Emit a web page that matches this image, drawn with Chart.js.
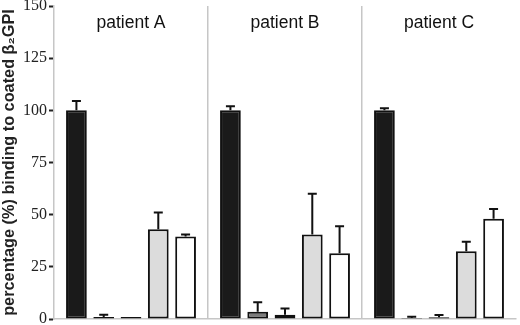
<!DOCTYPE html>
<html>
<head>
<meta charset="utf-8">
<script src="https://cdn.jsdelivr.net/npm/chart.js@4/dist/chart.umd.min.js"></script>
<style>
  html, body { margin: 0; padding: 0; background: #ffffff; }
  #wrap { width: 520px; height: 325px; position: relative; }
</style>
</head>
<body>
<div id="wrap"><canvas id="c" width="520" height="325"></canvas></div>
<script>
// ---- data ----
const categories = ['patient A', 'patient B', 'patient C'];
const series1 = [100, 100, 100];
const errors1 = [4.5, 2, 1];
const series2 = [1, 3.5, 0.5];
const errors2 = [1, 4.5, 0.6];
const series3 = [1, 2, 0.8];
const errors3 = [0, 3, 1.1];
const series4 = [43, 40.5, 32.5];
const errors4 = [8, 19.5, 4.5];
const series5 = [39.5, 31.5, 48];
const errors5 = [1, 13, 4.7];
const yTickValues = [0, 25, 50, 75, 100, 125, 150];
const yTitle = 'percentage (%) binding to coated \u03B2\u2082GPI';

const seriesList = [series1, series2, series3, series4, series5];
const errorList = [errors1, errors2, errors3, errors4, errors5];
const fills = ['#1a1a1a', '#7c7c7c', '#a6a6a6', '#dcdcdc', '#ffffff'];

const errorBarPlugin = {
  id: 'errorBars',
  afterDatasetsDraw(chart) {
    const ctx = chart.ctx;
    const y = chart.scales.y;
    ctx.save();
    ctx.strokeStyle = '#111';
    ctx.lineWidth = 2;
    chart.data.datasets.forEach((ds, d) => {
      const meta = chart.getDatasetMeta(d);
      meta.data.forEach((bar, i) => {
        const e = errorList[d][i];
        if (!e) return;
        const top = y.getPixelForValue(ds.data[i] + e);
        const base = y.getPixelForValue(ds.data[i]);
        ctx.beginPath();
        ctx.moveTo(bar.x, base);
        ctx.lineTo(bar.x, top);
        ctx.moveTo(bar.x - 4.5, top);
        ctx.lineTo(bar.x + 4.5, top);
        ctx.stroke();
      });
    });
    ctx.restore();
  }
};

const panelTitlePlugin = {
  id: 'panelTitles',
  afterDraw(chart) {
    const ctx = chart.ctx;
    const x = chart.scales.x;
    ctx.save();
    ctx.fillStyle = '#111';
    ctx.font = '17.5px "Liberation Sans", Arial, sans-serif';
    ctx.textAlign = 'center';
    ctx.textBaseline = 'alphabetic';
    categories.forEach((c, i) => {
      ctx.fillText(c, x.getPixelForValue(i), chart.chartArea.top + 22);
    });
    ctx.restore();
  }
};

new Chart(document.getElementById('c'), {
  type: 'bar',
  data: {
    labels: categories,
    datasets: seriesList.map((s, k) => ({
      data: s,
      backgroundColor: fills[k],
      borderColor: '#111',
      borderWidth: 2,
      borderSkipped: false,
      categoryPercentage: 0.886,
      barPercentage: 0.76
    }))
  },
  options: {
    responsive: false,
    animation: false,
    devicePixelRatio: 1,
    layout: { padding: { left: 0, right: 4, top: 0, bottom: 6 } },
    plugins: { legend: { display: false }, tooltip: { enabled: false } },
    scales: {
      x: {
        offset: true,
        ticks: { display: false },
        grid: {
          offset: true,
          drawTicks: false,
          lineWidth: 1.5,
          color: (c) => (c.index === 1 || c.index === 2) ? '#c6c6c6' : 'rgba(0,0,0,0)'
        },
        border: { color: '#c6c6c6', width: 1.5 }
      },
      y: {
        min: 0,
        max: 150,
        afterBuildTicks: (s) => { s.ticks = yTickValues.map(v => ({ value: v })); },
        afterFit: (s) => { s.width = 54; s.paddingTop = 6; s.paddingBottom = 0; },
        ticks: {
          color: '#222',
          padding: 2,
          font: { family: '"Liberation Serif", "Times New Roman", serif', size: 16 }
        },
        grid: {
          drawOnChartArea: false,
          drawTicks: true,
          tickLength: 5,
          tickWidth: 2,
          tickColor: '#222'
        },
        border: { color: '#c6c6c6', width: 1.5 },
        title: {
          display: true,
          text: yTitle,
          color: '#222',
          padding: { top: 0, bottom: 0 },
          font: { family: '"Liberation Sans", Arial, sans-serif', size: 16.3, weight: 'bold' }
        }
      }
    }
  },
  plugins: [errorBarPlugin, panelTitlePlugin]
});
</script>
</body>
</html>
